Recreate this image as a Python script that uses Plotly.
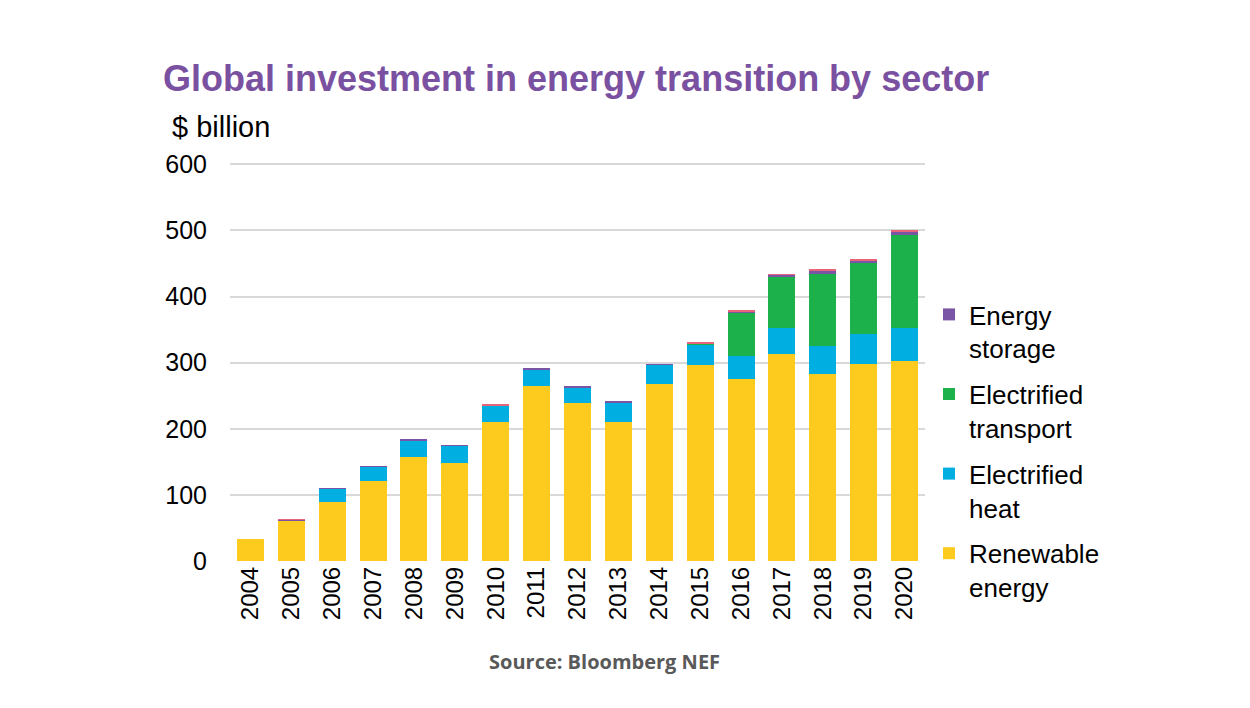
import plotly.graph_objects as go

years = [str(y) for y in range(2004, 2021)]
renewable = [33, 61, 89, 121, 157, 148, 210, 264, 239, 211, 267, 296, 276, 313, 283, 298, 302]
heat      = [0, 1, 20, 22, 26, 26, 25, 26, 24, 29, 30, 32, 34, 40, 42, 45, 51]
transport = [0, 0, 0, 0, 0, 0, 0, 0, 0, 0, 0, 0.5, 66, 78, 109, 108, 140]
storage   = [0, 0.5, 1, 0.5, 0.5, 0.5, 0.5, 0.5, 0.5, 0.5, 0.5, 1, 2, 2, 6, 4, 6]
other     = [0, 0.5, 0, 0, 0, 0, 0.5, 0, 0, 0, 0, 0.5, 0.5, 0.5, 0.5, 2, 1]

font = "Liberation Sans, Arial, sans-serif"

# page body has an 8px margin; figure drawn in a 1242x700 box offset by 8px
W, H = 1242, 700
L, R, T, B = 222, 325, 153, 147

fig = go.Figure()
series = [
    ("Renewable<br>energy", renewable, "#FDCB1E", True, 4),
    ("Electrified<br>heat", heat, "#00AEE2", True, 3),
    ("Electrified<br>transport", transport, "#1DB14B", True, 2),
    ("Energy<br>storage", storage, "#7B55A5", True, 1),
    ("Other", other, "#E8647A", False, 5),
]
for i, (name, vals, color, show, rank) in enumerate(series):
    fig.add_trace(go.Bar(x=years, y=vals, name=name, legendgroup=f"g{i}", legendrank=rank,
                         marker=dict(color=color, line=dict(width=0)), showlegend=show))

plot_w = W - L - R
plot_h = H - T - B
def px_to_paper(px, py):
    return (px - L) / plot_w, (H - B - py) / plot_h

lx, ly = px_to_paper(921, 283)

fig.update_layout(
    barmode="stack",
    bargap=0.34,
    width=W, height=H,
    paper_bgcolor="white", plot_bgcolor="white",
    margin=dict(l=L, r=R, t=T, b=B, autoexpand=False),
    font=dict(family=font, size=25, color="#000000"),
    legend=dict(x=lx, y=ly, xanchor="left", yanchor="top", traceorder="grouped",
                font=dict(size=26, family=font), valign="top", tracegroupgap=9,
                itemwidth=30),
    xaxis=dict(tickangle=-90, showgrid=False, showline=False, ticks="",
               tickfont=dict(size=24, family=font)),
    yaxis=dict(range=[0, 605], tickvals=[0, 100, 200, 300, 400, 500, 600],
               showgrid=True, gridcolor="#D9D9D9", gridwidth=2,
               zeroline=False, showline=False, ticks="outside", ticklen=17, tickcolor="white",
               tickfont=dict(size=25, family=font)),
)

ax, ay = px_to_paper(153, 70)
bx, by = px_to_paper(162, 119)
sx, sy = px_to_paper(596, 653)
fig.add_annotation(text="<b>Global investment in energy transition by sector</b>", x=ax, y=ay,
                   xref="paper", yref="paper", xanchor="left", yanchor="middle", showarrow=False,
                   font=dict(size=36, color="#7A51A1", family=font))
fig.add_annotation(text="$ billion", x=bx, y=by, xref="paper", yref="paper", xanchor="left",
                   yanchor="middle", showarrow=False, font=dict(size=29, color="#000", family=font))
fig.add_annotation(text="<b>Source: Bloomberg NEF</b>", x=sx, y=sy, xref="paper", yref="paper",
                   xanchor="center", yanchor="middle", showarrow=False,
                   font=dict(size=20, color="#595959", family="Open Sans, sans-serif"))

fig.write_html("out.html")
